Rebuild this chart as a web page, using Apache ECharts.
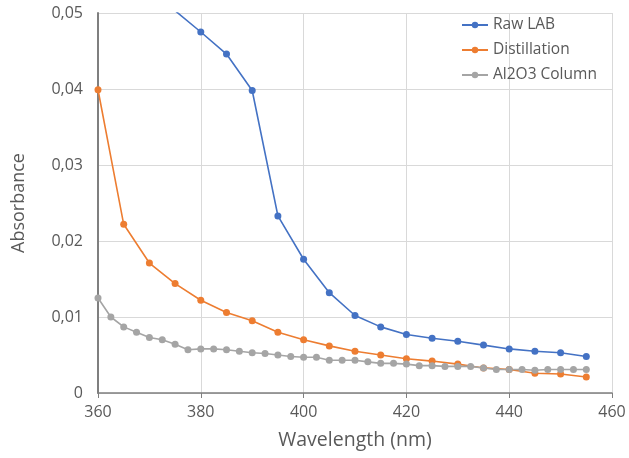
<!DOCTYPE html>
<html>
<head>
<meta charset="utf-8">
<script src="https://cdn.jsdelivr.net/npm/echarts@6/dist/echarts.min.js"></script>
<style>
  html, body { margin: 0; padding: 0; background: #fff; }
  #chart { width: 629px; height: 458px; }
</style>
</head>
<body>
<div id="chart"></div>
<script>
// Wavelengths (nm) and absorbance readings
const rawLabX = [375, 380, 385, 390, 395, 400, 405, 410, 415, 420, 425, 430, 435, 440, 445, 450, 455];
const rawLabY = [0.0503, 0.0475, 0.0446, 0.0398, 0.0233, 0.0176, 0.0132, 0.0102, 0.0087, 0.0077, 0.0072, 0.0068, 0.0063, 0.0058, 0.0055, 0.0053, 0.0048];

const distX = [360, 365, 370, 375, 380, 385, 390, 395, 400, 405, 410, 415, 420, 425, 430, 435, 440, 445, 450, 455];
const distY = [0.0399, 0.0222, 0.0171, 0.0144, 0.0122, 0.0106, 0.0095, 0.0080, 0.0070, 0.0062, 0.0055, 0.0050, 0.0045, 0.0042, 0.0038, 0.0033, 0.0031, 0.0026, 0.0025, 0.0021];

const aluX = [360, 362.5, 365, 367.5, 370, 372.5, 375, 377.5, 380, 382.5, 385, 387.5, 390, 392.5, 395, 397.5,
              400, 402.5, 405, 407.5, 410, 412.5, 415, 417.5, 420, 422.5, 425, 427.5, 430, 432.5, 435, 437.5,
              440, 442.5, 445, 447.5, 450, 452.5, 455];
const aluY = [0.0125, 0.0100, 0.0087, 0.0080, 0.0073, 0.0070, 0.0064, 0.0057, 0.0058, 0.0058, 0.0057, 0.0055, 0.0053, 0.0052, 0.0050, 0.0048,
              0.0047, 0.0047, 0.0043, 0.0043, 0.0043, 0.0041, 0.0039, 0.0039, 0.0038, 0.0036, 0.0036, 0.0035, 0.0035, 0.0035, 0.0033, 0.0031,
              0.0031, 0.0031, 0.0030, 0.0031, 0.0031, 0.0031, 0.0031];

const seriesNames = ['Raw LAB', 'Distillation', 'Al2O3 Column'];
const seriesColors = ['#4472C4', '#ED7D31', '#A5A5A5'];

const pairs = (xs, ys) => xs.map((x, i) => [x, ys[i]]);
const textColor = '#595959';
const font = "'Open Sans', 'Liberation Sans', sans-serif";

let myChart = echarts.init(document.getElementById('chart'));

const makeSeries = (name, color, data) => ({
    name: name,
    type: 'line',
    data: data,
    symbol: 'circle',
    symbolSize: 7,
    clip: true,
    lineStyle: { color: color, width: 1.6 },
    itemStyle: { color: color },
    emphasis: { disabled: true }
});

let option = {
    backgroundColor: '#ffffff',
    animation: false,
    textStyle: { fontFamily: font },
    grid: { left: 98, right: 17, top: 13, bottom: 65, outerBoundsMode: 'none' },
    legend: {
        orient: 'vertical',
        left: 456,
        top: 12,
        itemWidth: 26,
        itemHeight: 8,
        itemGap: 9,
        textStyle: { color: textColor, fontSize: 15.5, lineHeight: 16, fontFamily: font },
        data: seriesNames
    },
    xAxis: {
        type: 'value',
        min: 360,
        max: 460,
        interval: 20,
        name: 'Wavelength (nm)',
        nameLocation: 'middle',
        nameGap: 37,
        nameTextStyle: { color: textColor, fontSize: 19.5, fontFamily: font },
        axisLine: { show: true, lineStyle: { color: '#7f7f7f', width: 1.5 } },
        axisTick: { show: true, length: 5, lineStyle: { color: '#7f7f7f' } },
        axisLabel: { color: textColor, fontSize: 16, margin: 11 },
        splitLine: { show: true, lineStyle: { color: '#d9d9d9', width: 1 } }
    },
    yAxis: {
        type: 'value',
        min: 0,
        max: 0.05,
        interval: 0.01,
        name: 'Absorbance',
        nameLocation: 'middle',
        nameGap: 70,
        nameTextStyle: { color: textColor, fontSize: 18, fontFamily: font },
        axisLine: { show: true, lineStyle: { color: '#7f7f7f', width: 2 } },
        axisTick: { show: false },
        axisLabel: {
            color: textColor,
            fontSize: 16,
            margin: 15,
            formatter: (v) => v === 0 ? '0' : v.toFixed(2).replace('.', ',')
        },
        splitLine: { show: true, lineStyle: { color: '#d9d9d9', width: 1 } }
    },
    series: [
        makeSeries(seriesNames[0], seriesColors[0], pairs(rawLabX, rawLabY)),
        makeSeries(seriesNames[1], seriesColors[1], pairs(distX, distY)),
        makeSeries(seriesNames[2], seriesColors[2], pairs(aluX, aluY))
    ]
};

myChart.setOption(option, true);
</script>
</body>
</html>
